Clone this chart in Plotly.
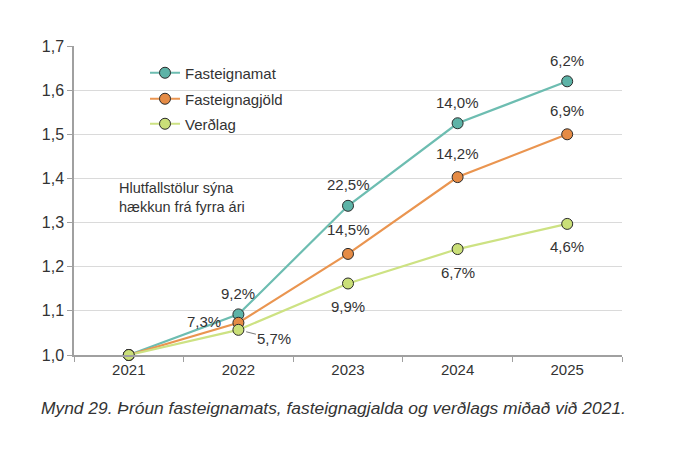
import plotly.graph_objects as go

years = ["2021", "2022", "2023", "2024", "2025"]
fasteignamat = [1.000, 1.092, 1.338, 1.525, 1.620]
fasteignagjold = [1.000, 1.073, 1.229, 1.403, 1.500]
verdlag = [1.000, 1.057, 1.162, 1.240, 1.297]

lbl_fm = [None, "9,2%", "22,5%", "14,0%", "6,2%"]
lbl_fg = [None, "7,3%", "14,5%", "14,2%", "6,9%"]
lbl_vl = [None, "5,7%", "9,9%", "6,7%", "4,6%"]

names = ["Fasteignamat", "Fasteignagjöld", "Verðlag"]
yticks = [1.0, 1.1, 1.2, 1.3, 1.4, 1.5, 1.6, 1.7]

FONT = "Liberation Sans, Arial, sans-serif"
TXT = "#333333"

# plot area in window pixels (page has an 8px body margin)
PL, PR, PT, PB = 74, 622, 46, 355
PW, PH = PR - PL, PB - PT
W, H = 677, 436

def px(x):
    return (x - PL) / PW

def py(y):
    return (PB - y) / PH

series = [
    (names[0], fasteignamat, "#6DBDB1", "#5DB3A7", "legend"),
    (names[1], fasteignagjold, "#EA9550", "#E58B45", "legend2"),
    (names[2], verdlag, "#CDE283", "#CADF78", "legend3"),
]

fig = go.Figure()
for name, vals, lc, mc, lg in series:
    fig.add_trace(go.Scatter(
        x=years, y=vals, name=name, mode="lines+markers",
        line=dict(color=lc, width=2.2),
        marker=dict(size=11, color=mc, line=dict(color="#2b2b2b", width=1)),
        legend=lg, cliponaxis=False,
    ))

annotations = []
def lab(i, y, t, xs, ys):
    annotations.append(dict(x=i, y=y, xref="x", yref="y", text=t, showarrow=False,
                            xshift=xs, yshift=ys, font=dict(size=15, color=TXT, family=FONT)))

for i in range(1, 5):
    lab(i, fasteignamat[i], lbl_fm[i], 0, 21)
lab(1, fasteignagjold[1], lbl_fg[1], -34, 1)
for i in range(2, 5):
    lab(i, fasteignagjold[i], lbl_fg[i], 0, 24)
annotations.append(dict(x=1, y=verdlag[1], xref="x", yref="y", text=lbl_vl[1],
                        showarrow=True, arrowhead=0, arrowwidth=0.8, arrowcolor="#555555",
                        ax=36, ay=9, standoff=8,
                        font=dict(size=15, color=TXT, family=FONT)))
for i in range(2, 5):
    lab(i, verdlag[i], lbl_vl[i], 0, -23)

annotations.append(dict(x=px(117), y=py(197), xref="paper", yref="paper",
                        text="Hlutfallstölur sýna<br>hækkun frá fyrra ári",
                        showarrow=False, align="left", xanchor="left", yanchor="middle",
                        font=dict(size=14.5, color=TXT, family=FONT)))

annotations.append(dict(x=px(39), y=py(408), xref="paper", yref="paper",
                        text="<i>Mynd 29. Þróun fasteignamats, fasteignagjalda og verðlags miðað við 2021.</i>",
                        showarrow=False, xanchor="left", yanchor="middle",
                        font=dict(size=17.4, color=TXT, family=FONT)))

legend_base = dict(bgcolor="rgba(0,0,0,0)", font=dict(size=15, color=TXT, family=FONT),
                   xanchor="left", yanchor="middle", itemwidth=30)
fig.update_layout(
    width=W, height=H,
    margin=dict(l=PL - 8, r=8 + W - PR, t=PT - 8, b=8 + H - PB),
    paper_bgcolor="white", plot_bgcolor="white",
    separators=", ",
    font=dict(family=FONT, color=TXT, size=15),
    showlegend=True,
    legend=dict(legend_base, x=px(145), y=py(73)),
    legend2=dict(legend_base, x=px(145), y=py(99)),
    legend3=dict(legend_base, x=px(145), y=py(124)),
    xaxis=dict(type="category", showgrid=False, showline=True, linecolor="#A0A0A0", linewidth=1.5,
               ticks="outside", tickson="boundaries", ticklen=5, tickcolor="#A0A0A0",
               tickfont=dict(size=15, color=TXT), range=[-0.5, 4.5]),
    yaxis=dict(range=[1.0, 1.7], tickvals=yticks, tickformat=".1f", showgrid=True,
               gridcolor="#DADADA", gridwidth=1, showline=True, linecolor="#A0A0A0", linewidth=1.5,
               ticks="outside", ticklen=5, tickcolor="#A0A0A0", zeroline=False,
               tickfont=dict(size=16, color=TXT)),
    annotations=annotations,
)

fig.write_html("out.html")
